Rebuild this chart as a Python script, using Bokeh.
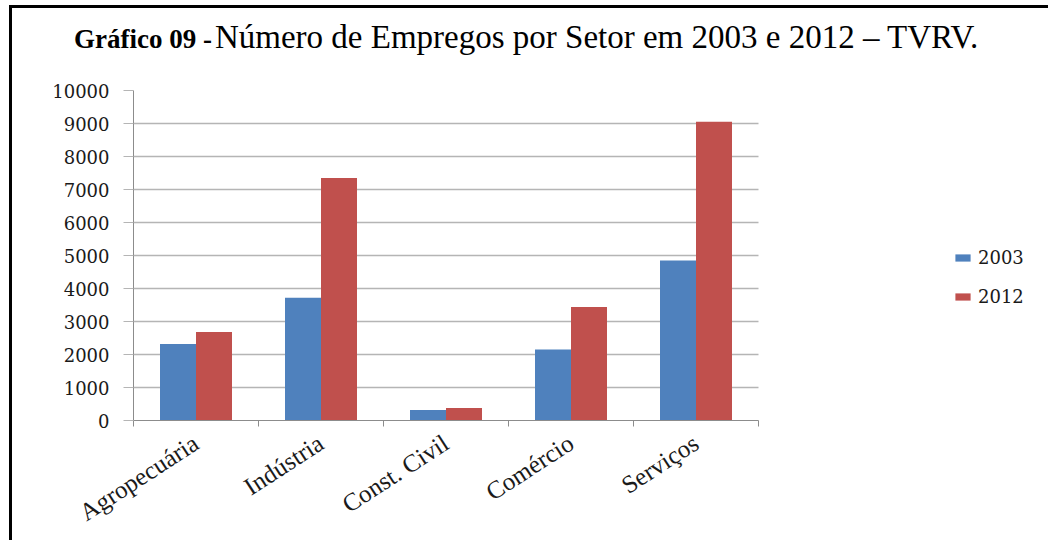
from bokeh.plotting import figure
from bokeh.models import ColumnDataSource, Range1d, FixedTicker, Div
from bokeh.layouts import column
from bokeh.transform import dodge
from bokeh.embed import file_html
from bokeh.resources import INLINE

# ---- data ----
categories = ["Agropecuária", "Indústria", "Const. Civil", "Comércio", "Serviços"]
years = ["2003", "2012"]
empregos_2003 = [2320, 3720, 320, 2150, 4850]
empregos_2012 = [2680, 7350, 380, 3440, 9050]
y_ticks = [0, 1000, 2000, 3000, 4000, 5000, 6000, 7000, 8000, 9000, 10000]
title_bold = "Gráfico 09 -"
title_rest = "Número de Empregos por Setor em 2003 e 2012 – TVRV."

colors = ["#4F81BD", "#C0504D"]
n = len(categories)
pos = [i + 0.5 for i in range(n)]
src = ColumnDataSource(dict(x=pos, cat=categories, y03=empregos_2003, y12=empregos_2012))

# frame spans to the right edge so the legend can sit inside it;
# axis and grid are bounded to the category extent
x_end = 907 / 125.0
p = figure(width=1036, height=480, x_range=Range1d(0, x_end), y_range=Range1d(0, 10000),
           output_backend="svg", toolbar_location=None, margin=(0, 0, 0, 0),
           min_border_left=121, min_border_right=8, min_border_top=30, min_border_bottom=120)
p.outline_line_color = None
p.background_fill_color = "white"
p.border_fill_color = "white"

bar_w = 0.288
p.vbar(x=dodge("x", -bar_w / 2), top="y03", width=bar_w, source=src,
       fill_color=colors[0], line_color=None, legend_label=years[0])
p.vbar(x=dodge("x", bar_w / 2), top="y12", width=bar_w, source=src,
       fill_color=colors[1], line_color=None, legend_label=years[1])

axis_gray = "#8c8c8c"
# x axis
p.xaxis.ticker = FixedTicker(ticks=pos, minor_ticks=list(range(n + 1)))
p.xaxis.bounds = (0, n)
p.xaxis.major_label_overrides = {pv: c for pv, c in zip(pos, categories)}
p.xaxis.major_tick_line_color = None
p.xaxis.major_tick_out = 0
p.xaxis.major_tick_in = 0
p.xaxis.minor_tick_out = 6
p.xaxis.minor_tick_in = 0
p.xaxis.minor_tick_line_color = axis_gray
p.xaxis.axis_line_color = axis_gray
p.xaxis.major_label_orientation = 0.576
p.xaxis.major_label_text_font = "Liberation Serif"
p.xaxis.major_label_text_font_size = "25px"
p.xaxis.major_label_text_color = "#1a1a1a"
p.xaxis.major_label_standoff = 14

# y axis
p.yaxis.ticker = FixedTicker(ticks=y_ticks)
p.yaxis.major_tick_out = 10
p.yaxis.major_tick_in = 0
p.yaxis.major_tick_line_color = "#b5b5b5"
p.yaxis.minor_tick_line_color = None
p.yaxis.axis_line_color = axis_gray
p.yaxis.major_label_text_font = "DejaVu Serif"
p.yaxis.major_label_text_font_size = "18px"
p.yaxis.major_label_text_color = "#1a1a1a"
p.yaxis.major_label_standoff = 14

p.xgrid.visible = False
p.ygrid.ticker = FixedTicker(ticks=y_ticks)
p.ygrid.cross_bounds = (0, n)
p.ygrid.grid_line_color = "#b5b5b5"
p.ygrid.grid_line_width = 1.5

# legend (inside the wide frame, right of the bars)
lg = p.legend[0]
lg.location = (820, 113)
lg.padding = 0
lg.margin = 0
lg.border_line_color = None
lg.background_fill_alpha = 0
lg.glyph_width = 19
lg.glyph_height = 9
lg.label_height = 18
lg.spacing = 18
lg.label_standoff = 6
lg.label_text_font = "DejaVu Serif"
lg.label_text_font_size = "18px"
lg.label_text_color = "#1a1a1a"

title_html = (
    '<div style="padding-top:9px;padding-left:62px;line-height:40px;white-space:nowrap;'
    'font-family:\'Liberation Serif\';color:black">'
    f'<span style="font-weight:bold;font-size:27px">{title_bold}</span> '
    f'<span style="font-size:33px">{title_rest}</span></div>'
)
title_div = Div(text=title_html, width=1036, height=52, margin=(0, 0, 0, 0))

layout = column(title_div, p, margin=(0, 0, 0, 0),
                styles={"margin-left": "9px", "margin-top": "5px",
                        "border-left": "3px solid black", "border-top": "3px solid black"})

open("out.html", "w").write(file_html(layout, INLINE))
